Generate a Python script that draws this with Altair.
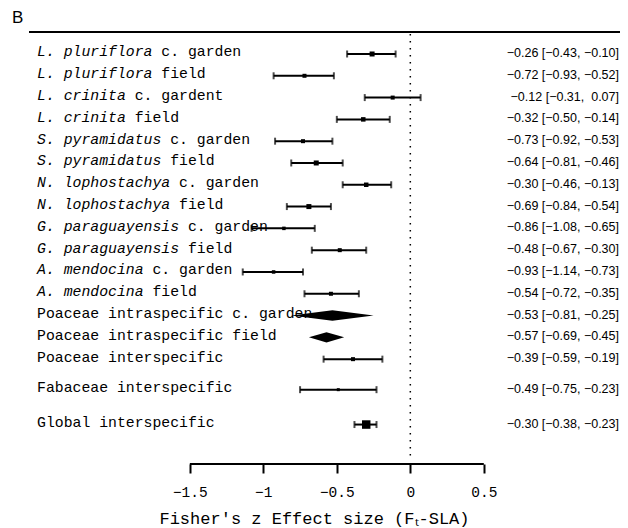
import altair as alt
import pandas as pd

# ---- data ----
species = ["L. pluriflora", "L. pluriflora", "L. crinita", "L. crinita",
           "S. pyramidatus", "S. pyramidatus", "N. lophostachya", "N. lophostachya",
           "G. paraguayensis", "G. paraguayensis", "A. mendocina", "A. mendocina",
           "", "", "", "", ""]
suffixes = ["c. garden", "field", "c. gardent", "field",
            "c. garden", "field", "c. garden", "field",
            "c. garden", "field", "c. garden", "field",
            "Poaceae intraspecific c. garden", "Poaceae intraspecific field",
            "Poaceae interspecific", "Fabaceae interspecific", "Global interspecific"]
estimates = [-0.26, -0.72, -0.12, -0.32, -0.73, -0.64, -0.30, -0.69, -0.86, -0.48,
             -0.93, -0.54, -0.53, -0.57, -0.39, -0.49, -0.30]
lower = [-0.43, -0.93, -0.31, -0.50, -0.92, -0.81, -0.46, -0.84, -1.08, -0.67,
         -1.14, -0.72, -0.81, -0.69, -0.59, -0.75, -0.38]
upper = [-0.10, -0.52, 0.07, -0.14, -0.53, -0.46, -0.13, -0.54, -0.65, -0.30,
         -0.73, -0.35, -0.25, -0.45, -0.19, -0.23, -0.23]
rows = [0, 1, 2, 3, 4, 5, 6, 7, 8, 9, 10, 11, 12, 13, 14, 15.4, 17]
kinds = ["study"] * 12 + ["summary", "summary", "study", "study", "study"]
weights = [5, 4, 4, 4.5, 4, 5, 4.5, 5, 3.5, 4, 3.5, 4, 0, 0, 4, 3, 8.5]
tick_values = [-1.5, -1, -0.5, 0, 0.5]

NBSP = "\u00a0"
MONO = "Liberation Mono"
SANS = "Liberation Sans"
LABEL_SIZE = 14.8
CHAR_W = LABEL_SIZE * 0.6
W = 612


def fmt(v, pad=False):
    s = f"{abs(v):.2f}"
    if v < 0:
        return "\u2212" + s
    return (NBSP if pad else "") + s


records = []
for i in range(len(rows)):
    n = len(species[i]) + 1 if species[i] else 0
    records.append({
        "italic": species[i],
        "plain": suffixes[i],
        "n": n,
        "est": estimates[i],
        "lo": lower[i],
        "hi": upper[i],
        "row": rows[i],
        "kind": kinds[i],
        "size": weights[i] ** 2,
        "ci": f"{fmt(estimates[i])} [{fmt(lower[i])}, {fmt(upper[i], True)}]",
    })
df = pd.DataFrame(records)
studies = df[df.kind == "study"]

# diamond polygons for summary rows
HALF = 0.24
dia = []
for r in df[df.kind == "summary"].itertuples():
    dia += [
        {"id": r.plain, "x": r.lo, "y": r.row, "y2": r.row},
        {"id": r.plain, "x": r.est, "y": r.row - HALF, "y2": r.row + HALF},
        {"id": r.plain, "x": r.hi, "y": r.row, "y2": r.row},
    ]
dia = pd.DataFrame(dia)

xscale = alt.Scale(domain=[-2.737, 1.4265], nice=False, zero=False)
yscale = alt.Scale(domain=[-2.11, 18.81], reverse=True, nice=False, zero=False)
xaxis = alt.Axis(values=tick_values, format=".1~f", domain=False, grid=False,
                 tickSize=9, tickWidth=2, tickColor="black",
                 labelFont=MONO, labelFontSize=14.5, labelColor="black",
                 labelPadding=12, labelOverlap=False,
                 title="Fisher's z Effect size (F\u209c-SLA)",
                 titleFont=MONO, titleFontSize=17, titleFontWeight="normal",
                 titleColor="black", titlePadding=12)

Y = alt.Y("row:Q", scale=yscale, axis=None)

bars = alt.Chart(studies).mark_rule(color="black", strokeWidth=2).encode(
    x=alt.X("lo:Q", scale=xscale, axis=xaxis), x2="hi:Q", y=Y)

cap_lo = alt.Chart(studies).mark_tick(orient="vertical", color="black",
                                      size=7, thickness=2).encode(
    x=alt.X("lo:Q", scale=xscale, axis=xaxis), y=Y)
cap_hi = alt.Chart(studies).mark_tick(orient="vertical", color="black",
                                      size=7, thickness=2).encode(
    x=alt.X("hi:Q", scale=xscale, axis=xaxis), y=Y)

squares = alt.Chart(studies).mark_square(color="black", opacity=1,
                                         strokeWidth=0).encode(
    x=alt.X("est:Q", scale=xscale, axis=xaxis), y=Y,
    size=alt.Size("size:Q", scale=None, legend=None))

diamonds = alt.Chart(dia).mark_area(color="black", orient="vertical",
                                    opacity=1).encode(
    x=alt.X("x:Q", scale=xscale, axis=xaxis),
    y=alt.Y("y:Q", scale=yscale, axis=None), y2="y2:Q",
    detail="id:N")

zero_line = alt.Chart(pd.DataFrame({"x": [0]})).mark_rule(
    color="black", strokeWidth=1.5, strokeDash=[1.5, 5.5]).encode(
    x=alt.X("x:Q", scale=xscale, axis=xaxis),
    y=alt.value(26), y2=alt.value(450))

axis_line = alt.Chart(pd.DataFrame({"a": [min(tick_values)],
                                    "b": [max(tick_values)]})).mark_rule(
    color="black", strokeWidth=2).encode(
    x=alt.X("a:Q", scale=xscale, axis=xaxis), x2="b:Q", y=alt.value(456))

top_line = alt.Chart(pd.DataFrame({"a": [0]})).mark_rule(
    color="black", strokeWidth=2).encode(
    x=alt.value(21), x2=alt.value(W), y=alt.value(24))

panel = alt.Chart(pd.DataFrame({"t": ["B"]})).mark_text(
    font=SANS, fontSize=17, align="left", baseline="middle", color="black").encode(
    x=alt.value(4), y=alt.value(10), text="t:N")

lab_it = alt.Chart(df).mark_text(font=MONO, fontSize=LABEL_SIZE, fontStyle="italic",
                                 align="left", baseline="middle", dy=-1.5,
                                 color="black").encode(
    x=alt.value(29), y=Y, text="italic:N")

plain_layers = []
for n in sorted(df["n"].unique()):
    plain_layers.append(
        alt.Chart(df).transform_filter(alt.datum.n == int(n)).mark_text(
            font=MONO, fontSize=LABEL_SIZE, align="left", baseline="middle",
            dy=-1.5, dx=float(n) * CHAR_W, color="black").encode(
            x=alt.value(29), y=Y, text="plain:N"))

ci_text = alt.Chart(df).mark_text(font=SANS, fontSize=12.5,
                                  align="right", baseline="middle", dy=-1,
                                  color="black").encode(
    x=alt.value(W - 1), y=Y, text="ci:N")

chart = alt.layer(
    top_line, panel, zero_line, axis_line, bars, cap_lo, cap_hi, squares,
    diamonds, lab_it, *plain_layers, ci_text
).properties(
    width=W, height=456,
    autosize=alt.AutoSizeParams(type="none"),
    padding={"left": 0, "top": 0, "right": 0, "bottom": 64},
).configure_view(stroke=None)

chart.save("out.html", embed_options={"renderer": "svg", "actions": False})
